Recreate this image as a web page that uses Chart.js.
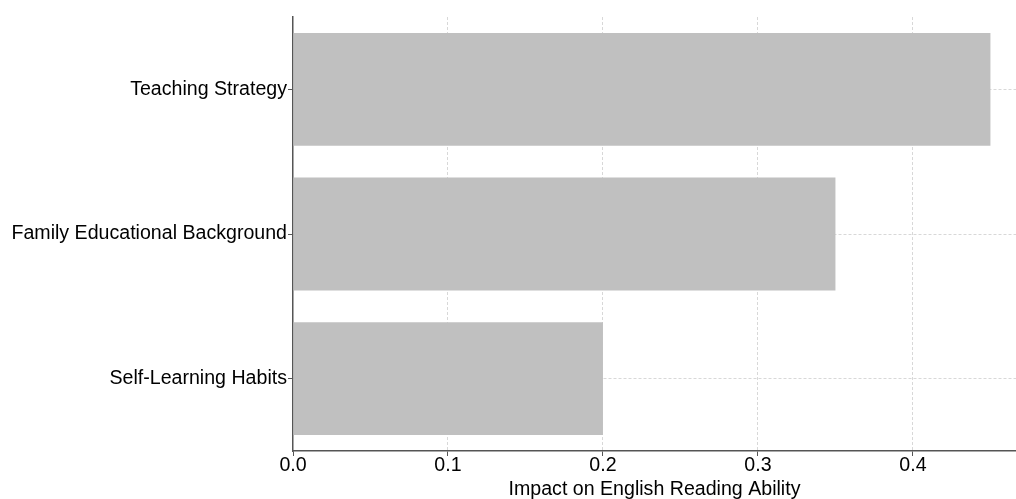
<!DOCTYPE html>
<html>
<head>
<meta charset="utf-8">
<script src="https://cdn.jsdelivr.net/npm/chart.js@4.4.1/dist/chart.umd.min.js"></script>
<style>
  html, body { margin: 0; padding: 0; background: #fff; }
  #wrap { width: 1016px; height: 499px; }
</style>
</head>
<body>
<div id="wrap"><canvas id="impactChart"></canvas></div>
<script>
// Données du graphique
const factors = ['Teaching Strategy', 'Family Educational Background', 'Self-Learning Habits'];
const impactValues = [0.45, 0.35, 0.20];
const axisTitle = 'Impact on English Reading Ability';

Chart.defaults.font.family = '"Liberation Sans", Arial, sans-serif';
Chart.defaults.color = '#000';

const ctx = document.getElementById('impactChart').getContext('2d');
new Chart(ctx, {
    type: 'bar',
    data: {
        labels: factors,
        datasets: [{
            data: impactValues,
            backgroundColor: '#c0c0c0',
            borderWidth: 0,
            categoryPercentage: 1.0,
            barPercentage: 0.78
        }]
    },
    options: {
        indexAxis: 'y',
        responsive: true,
        maintainAspectRatio: false,
        animation: false,
        layout: { padding: { top: 17, right: 0, left: 0, bottom: 0 } },
        plugins: {
            legend: { display: false },
            tooltip: { enabled: false }
        },
        scales: {
            x: {
                min: 0,
                max: 0.4665,
                z: 1,
                afterFit: (scale) => { scale.height = 48; },
                border: { color: '#555', width: 1.5, dash: [3, 2] },
                grid: {
                    // pas de ligne de grille sur l'axe à 0
                    color: (c) => (c.tick && c.tick.value === 0) ? 'rgba(0,0,0,0)' : '#d8d8d8',
                    tickLength: 5,
                    tickColor: '#555',
                    tickBorderDash: []
                },
                ticks: {
                    stepSize: 0.1,
                    includeBounds: false,
                    padding: 0,
                    font: { size: 19.6, lineHeight: 1.0 },
                    callback: (value) => value.toFixed(1)
                },
                title: {
                    display: true,
                    text: axisTitle,
                    font: { size: 19.6, lineHeight: 1.0 },
                    padding: { top: 3, bottom: 0 }
                }
            },
            y: {
                z: 1,
                afterFit: (scale) => { scale.width = 293; },
                border: { color: '#555', width: 1.5, dash: [3, 2] },
                grid: {
                    offset: false,
                    color: '#d8d8d8',
                    tickLength: 5,
                    tickColor: '#555',
                    tickBorderDash: []
                },
                ticks: {
                    padding: 1,
                    font: { size: 19.6 }
                }
            }
        }
    }
});
</script>
</body>
</html>
